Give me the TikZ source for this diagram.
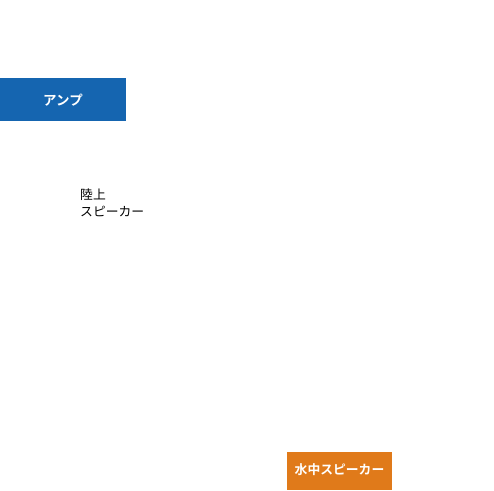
\documentclass[tikz,border=0pt]{standalone}
\usepackage{fontspec}
\newfontfamily\jpfont{Noto Sans CJK JP}
\newfontfamily\jpbold{Noto Sans CJK JP Bold}
\definecolor{ampblue}{HTML}{1565B0}
\definecolor{uworange}{HTML}{E07A1A}
\begin{document}
\begin{tikzpicture}[x=1pt,y=-1pt,
  boxlabel/.style={font=\jpbold\fontsize{13.5}{16}\selectfont, text=white, inner sep=0pt},
  plain/.style={font=\jpfont\fontsize{12.8}{16.5}\selectfont, text=black, inner sep=0pt, align=left}]
\useasboundingbox (0,0) rectangle (494,490);
\fill[white] (0,0) rectangle (494,490);
\fill[ampblue] (0,78) rectangle (126,121);
\node[boxlabel] (amp) at (63,100) {アンプ};
\node[plain, anchor=north west] (land) at (80,189) {陸上\\スピーカー};
\fill[uworange] (287,452) rectangle (392,490);
\node[boxlabel,font=\jpbold\fontsize{12.8}{15}\selectfont] (uw) at (339.5,470) {水中スピーカー};
\end{tikzpicture}
\end{document}
